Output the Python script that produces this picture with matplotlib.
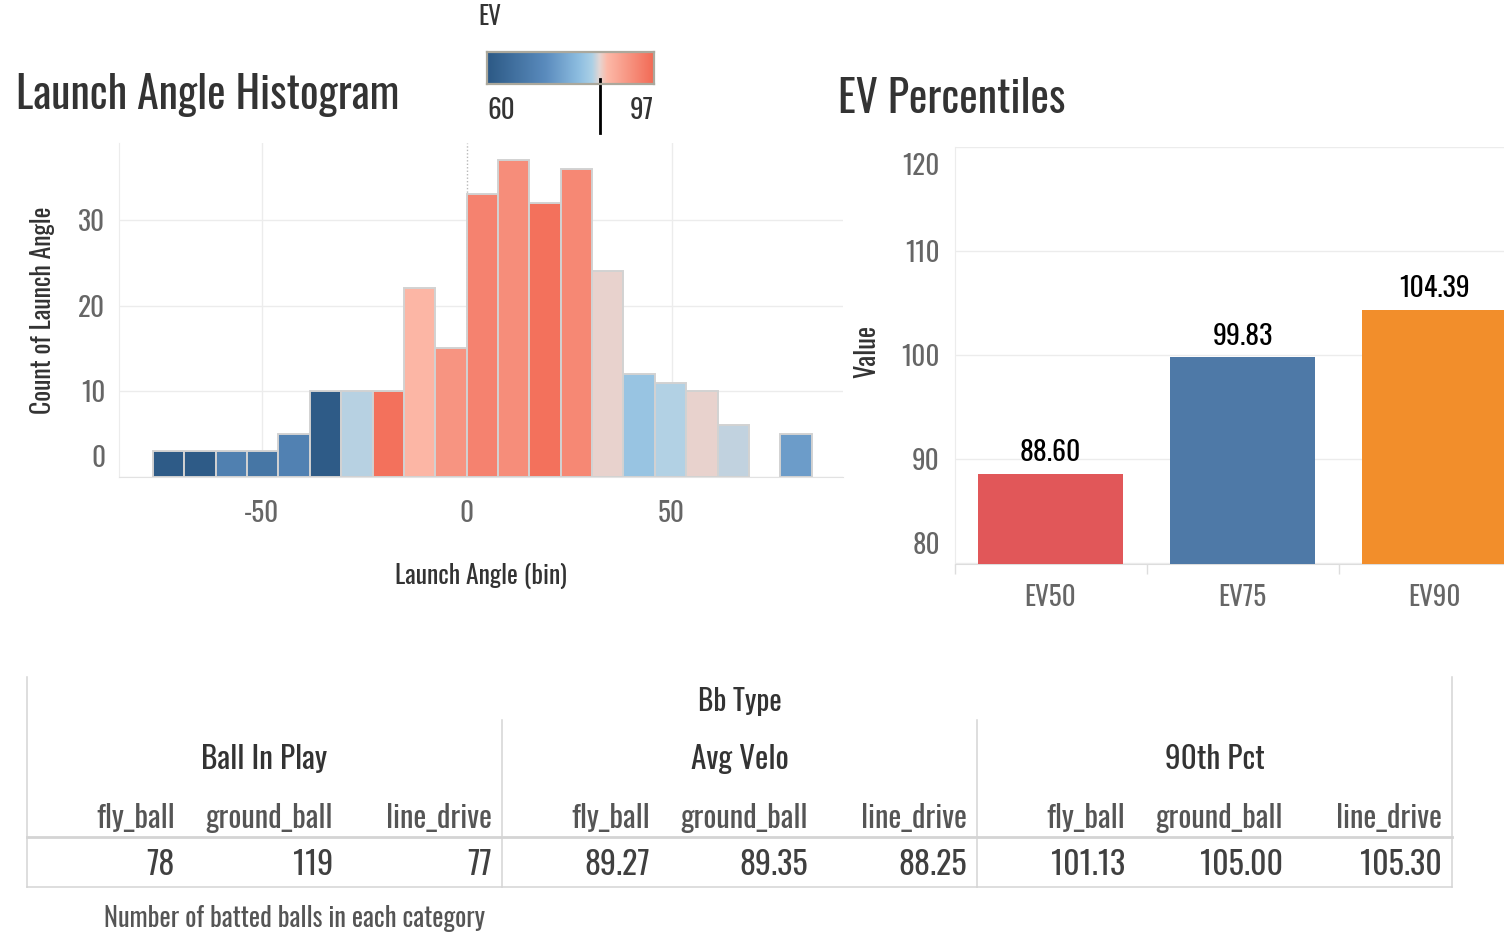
import numpy as np
import matplotlib
matplotlib.use("Agg")
import matplotlib.pyplot as plt
import matplotlib.transforms as mtransforms
from matplotlib import font_manager
from matplotlib.colors import LinearSegmentedColormap, Normalize

# ---- data ----
bin_start = -76.5
bin_width = 7.65
bin_counts = [3, 3, 3, 3, 5, 10, 10, 10, 22, 15, 33, 37, 32, 36, 24, 12, 11, 10, 6, 0, 5]
bin_ev = [60.5, 60.5, 70, 67.5, 70.5, 60.5, 83.7, 96, 87, 91.5, 93.7, 92.3, 96, 93,
          85.2, 81.5, 83.5, 85.2, 83.9, np.nan, 75.5]
ev_min, ev_max = 60, 97
ev_marker = 85

pct_labels = ["EV50", "EV75", "EV90"]
pct_values = [88.60, 99.83, 104.39]
pct_colors = ["#e15759", "#4e79a7", "#f28e2b"]

table_title = "Bb Type"
table_groups = ["Ball In Play", "Avg Velo", "90th Pct"]
table_types = ["fly_ball", "ground_ball", "line_drive"]
ball_in_play = [78, 119, 77]
avg_velo = [89.27, 89.35, 88.25]
pct90 = [101.13, 105.00, 105.30]
caption = "Number of batted balls in each category"

# ---- fonts ----
avail = {f.name for f in font_manager.fontManager.ttflist}
FONT = "DejaVu Sans"
for cand in ["Oswald", "Roboto Condensed", "Liberation Sans Narrow"]:
    if cand in avail:
        FONT = cand
        break
plt.rcParams["font.family"] = [FONT, "DejaVu Sans"]

DARK = "#333333"
TICK = "#666666"
GRID = "#ececec"
LINE = "#d4d4d4"

# colour scale of the legend
mid_t = (ev_marker - ev_min) / (ev_max - ev_min)
cmap = LinearSegmentedColormap.from_list("ev", [
    (0.0, "#2c5985"), (0.35, "#5a8bbd"), (0.55, "#8dbde0"), (0.63, "#abd0e6"),
    (mid_t, "#e5d6d3"), (0.72, "#fcb9a8"), (1.0, "#f26a55")])
norm = Normalize(ev_min, ev_max)

fig = plt.figure(figsize=(15.04, 9.5), dpi=100)
W, H = 1504, 950


def fig_rect(x0, y0, x1, y1):
    return [x0 / W, 1 - y1 / H, (x1 - x0) / W, (y1 - y0) / H]


def shift(label, dy_px):
    # move a tick label vertically by some pixels (positive = up)
    off = mtransforms.ScaledTranslation(0, dy_px / 100, fig.dpi_scale_trans)
    label.set_transform(label.get_transform() + off)


# overlay for titles and the table (pixel coordinates)
ov = fig.add_axes([0, 0, 1, 1])
ov.set_xlim(0, W)
ov.set_ylim(H, 0)
ov.axis("off")

# ---- histogram ----
ax1 = fig.add_axes(fig_rect(119, 143, 843, 476.7))
lefts = [bin_start + i * bin_width for i in range(len(bin_counts))]
keep = [i for i, c in enumerate(bin_counts) if c > 0]
ax1.bar([lefts[i] for i in keep], [bin_counts[i] for i in keep], width=bin_width,
        align="edge", color=[cmap(norm(bin_ev[i])) for i in keep],
        edgecolor="#d2d2d2", linewidth=1.4, zorder=3)
ax1.axvline(0, color="#b8b8b8", ls=(0, (1, 1.5)), lw=1, zorder=2)
ax1.set_xlim(-84.8, 91.8)
ax1.set_ylim(0, 39)
ax1.set_xticks([-50, 0, 50], labels=["-50", "0", "50"])
ax1.set_yticks([0, 10, 20, 30], labels=["0", "10", "20", "30"])
ax1.grid(True, color=GRID, lw=1, zorder=0)
ax1.xaxis.get_gridlines()[1].set_visible(False)
ax1.set_axisbelow(True)
ax1.tick_params(length=0, labelsize=19.5, labelcolor=TICK)
ax1.tick_params(axis="x", pad=17)
ax1.tick_params(axis="y", pad=10)
ax1.get_yticklabels()[0].set_va("bottom")
shift(ax1.get_yticklabels()[0], 5)
for s in ["top", "right"]:
    ax1.spines[s].set_visible(False)
ax1.spines["left"].set_color(GRID)
ax1.spines["bottom"].set_color("#e2e2e2")
ax1.set_xlabel("Launch Angle (bin)", fontsize=18.5, color=DARK)
ax1.xaxis.set_label_coords(0.5, -0.26)
ax1.set_ylabel("Count of Launch Angle", fontsize=18.5, color=DARK)
ax1.yaxis.set_label_coords(-0.087, 0.5)

# ---- EV legend ----
cax = fig.add_axes(fig_rect(487, 52, 654, 84))
cax.imshow(np.linspace(ev_min, ev_max, 256)[None, :], cmap=cmap, norm=norm,
           aspect="auto", extent=[ev_min, ev_max, 0, 1])
cax.set_xticks([])
cax.set_yticks([])
for s in cax.spines.values():
    s.set_color("#aba89c")
    s.set_linewidth(1.6)
blend = mtransforms.blended_transform_factory(cax.transData, cax.transAxes)
cax.plot([ev_marker, ev_marker], [0.16, -1.53], transform=blend, color="black",
         lw=2, clip_on=False)
cax.text(ev_min, -0.4, str(ev_min), transform=blend, ha="left", va="top",
         fontsize=19.5, color=DARK)
cax.text(ev_max, -0.4, str(ev_max), transform=blend, ha="right", va="top",
         fontsize=19.5, color=DARK)
ov.text(478, 17, "EV", ha="left", va="center", fontsize=18, color=DARK)

# ---- percentiles ----
ax2 = fig.add_axes(fig_rect(954.5, 147, 954.5 + 192 * 3, 563.5))
x = np.arange(len(pct_labels))
ax2.bar(x, pct_values, width=0.755, color=pct_colors, zorder=3)
for xi, v in zip(x, pct_values):
    ax2.annotate(f"{v:.2f}", (xi, v), xytext=(0, 9), textcoords="offset points",
                 ha="center", va="baseline", fontsize=20, color="black")
ax2.set_xlim(-0.5, len(pct_labels) - 0.5)
ax2.set_ylim(80, 120)
ax2.set_xticks(x, labels=pct_labels)
ax2.set_xticks(np.arange(len(pct_labels) + 1) - 0.5, minor=True)
ax2.set_yticks([80, 90, 100, 110, 120], labels=["80", "90", "100", "110", "120"])
ax2.grid(True, axis="y", color=GRID, lw=1, zorder=0)
ax2.set_axisbelow(True)
ax2.tick_params(length=0, labelsize=19.5, labelcolor=TICK)
ax2.tick_params(axis="x", which="major", pad=14.5)
ax2.tick_params(axis="y", pad=10.5)
ax2.tick_params(axis="x", which="minor", length=7, color="#dddddd", width=1)
ax2.get_yticklabels()[0].set_va("bottom")
shift(ax2.get_yticklabels()[0], 4)
ax2.get_yticklabels()[-1].set_va("top")
shift(ax2.get_yticklabels()[-1], -6)
for s in ["top", "right"]:
    ax2.spines[s].set_visible(False)
ax2.spines["left"].set_color(GRID)
ax2.spines["bottom"].set_color("#dddddd")
ax2.set_ylabel("Value", fontsize=19, color=DARK, fontweight="bold")
ax2.yaxis.set_label_coords(-0.129, 0.508)

# ---- titles ----
ov.text(16, 109, "Launch Angle Histogram", fontsize=31.5, color=DARK, va="baseline")
ov.text(838, 113, "EV Percentiles", fontsize=31.5, color=DARK, va="baseline")

# ---- table ----
t_left, t_right = 27, 1452
group_w = (t_right - t_left) / len(table_groups)
col_ends = [148, 306, 465]
ov.plot([t_left, t_left], [677, 887], color=LINE, lw=1.1)
ov.plot([t_right, t_right], [677, 887], color=LINE, lw=1.1)
for g in range(1, len(table_groups)):
    xg = t_left + g * group_w
    ov.plot([xg, xg], [720, 887], color=LINE, lw=1.1)
ov.plot([t_left, t_right], [837, 837], color=LINE, lw=2)
ov.plot([t_left, t_right], [887, 887], color=LINE, lw=1.1)

ov.text((t_left + t_right) / 2, 711, table_title, ha="center", va="baseline",
        fontsize=21, color=DARK)
rows = [[str(v) for v in ball_in_play],
        [f"{v:.2f}" for v in avg_velo],
        [f"{v:.2f}" for v in pct90]]
for g, name in enumerate(table_groups):
    gx = t_left + g * group_w
    ov.text(gx + group_w / 2, 769, name, ha="center", va="baseline",
            fontsize=22.5, color=DARK)
    for j, t in enumerate(table_types):
        ov.text(gx + col_ends[j], 828, t, ha="right", va="baseline",
                fontsize=22, color="#555555")
        ov.text(gx + col_ends[j], 875, rows[g][j], ha="right", va="baseline",
                fontsize=23, color="#404040")
ov.text(104, 927, caption, ha="left", va="baseline", fontsize=19, color="#555555")

fig.savefig("out.png", dpi=100)
